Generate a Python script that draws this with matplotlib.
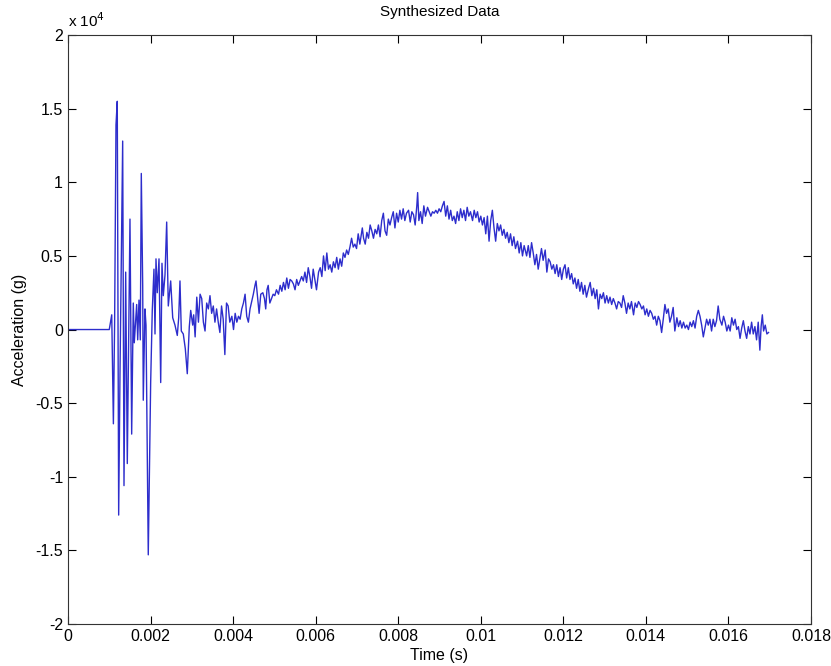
import matplotlib
matplotlib.use("Agg")
import matplotlib.pyplot as plt
from matplotlib.ticker import FuncFormatter
import numpy as np

# temps en ms, acceleration en unites de 1e4 g
t_burst = [0.00, 1.00, 1.06, 1.10, 1.13, 1.163, 1.194, 1.228, 1.26, 1.325, 1.357, 1.398,
           1.437, 1.502, 1.543, 1.582, 1.606, 1.664, 1.689, 1.720, 1.752, 1.776, 1.810,
           1.824, 1.865, 1.890, 1.945, 2.003, 2.042, 2.083, 2.108, 2.132, 2.163, 2.205,
           2.246, 2.277, 2.309, 2.350, 2.391, 2.430, 2.488, 2.537, 2.592, 2.648, 2.682,
           2.713, 2.745, 2.793, 2.842, 2.890, 2.939, 2.973, 3.021, 3.045]
a_burst = [0.00, 0.00, 0.10, -0.64, 0.05, 1.39, 1.55, -1.26, -0.30, 1.28, -1.06, 0.39,
           -0.91, 0.75, -0.71, 0.18, -0.09, 0.17, -0.07, 0.20, -0.07, 1.06, 0.30,
           -0.48, 0.14, 0.03, -1.53, -0.36, 0.13, 0.41, -0.03, 0.48, 0.25, 0.48,
           -0.36, 0.45, 0.23, 0.37, 0.73, 0.16, 0.33, 0.08, 0.03, -0.04, 0.08,
           0.33, -0.01, -0.03, -0.13, -0.30, 0.02, 0.13, 0.03, 0.10]

t_rise = [3.08, 3.12, 3.16, 3.20, 3.24, 3.28, 3.32, 3.36, 3.40, 3.44, 3.48, 3.52, 3.56,
          3.60, 3.64, 3.68, 3.72, 3.76, 3.80, 3.84, 3.88, 3.92, 3.97, 4.01, 4.05, 4.09,
          4.13, 4.17, 4.21, 4.25, 4.29, 4.33, 4.37, 4.41, 4.45, 4.49, 4.53, 4.555, 4.595,
          4.63, 4.67, 4.72, 4.76, 4.79, 4.82, 4.85, 4.89, 4.93, 4.97, 5.01, 5.05, 5.10,
          5.14, 5.18, 5.22, 5.26, 5.30, 5.34, 5.38, 5.42, 5.46, 5.50, 5.54, 5.58, 5.62,
          5.66, 5.70,
          5.74, 5.78, 5.82, 5.86, 5.90, 5.94, 5.98, 6.02, 6.07, 6.11, 6.15, 6.19, 6.23,
          6.27, 6.31, 6.35, 6.39, 6.43, 6.47, 6.51, 6.55, 6.59, 6.63, 6.67, 6.71, 6.75,
          6.79, 6.83, 6.87, 6.91, 6.95, 6.99, 7.03, 7.07, 7.13, 7.16, 7.20, 7.24, 7.28,
          7.32, 7.36, 7.40, 7.44, 7.48, 7.52, 7.56, 7.60, 7.64, 7.68, 7.72, 7.76, 7.80,
          7.84, 7.88, 7.92, 7.96, 8.00, 8.04, 8.08, 8.12, 8.16, 8.20, 8.25, 8.29, 8.33,
          8.37]
a_rise = [-0.05, 0.22, 0.05, 0.24, 0.21, 0.05, -0.01, 0.18, 0.14, 0.23, 0.11, 0.16, 0.05,
          0.14, 0.05, -0.02, 0.16, 0.07, -0.17, 0.18, 0.16, 0.05, 0.09, 0.00, 0.11, 0.05,
          0.09, 0.07, 0.14, 0.18, 0.24, 0.09, 0.05, 0.14, 0.19, 0.24, 0.30, 0.33, 0.21,
          0.11, 0.24, 0.25, 0.21, 0.14, 0.27, 0.30, 0.18, 0.21, 0.24, 0.23, 0.27, 0.24,
          0.30, 0.26, 0.32, 0.27, 0.35, 0.28, 0.34, 0.33, 0.31, 0.27, 0.34, 0.30, 0.33,
          0.36, 0.33,
          0.39, 0.32, 0.42, 0.36, 0.28, 0.41, 0.34, 0.27, 0.39, 0.42, 0.36, 0.50, 0.40,
          0.52, 0.41, 0.44, 0.39, 0.46, 0.42, 0.49, 0.41, 0.48, 0.43, 0.52, 0.49, 0.54,
          0.51, 0.56, 0.62, 0.56, 0.58, 0.55, 0.65, 0.58, 0.69, 0.62, 0.58, 0.66, 0.62,
          0.71, 0.67, 0.62, 0.68, 0.65, 0.71, 0.63, 0.74, 0.79, 0.67, 0.64, 0.75, 0.71,
          0.76, 0.80, 0.69, 0.79, 0.73, 0.81, 0.75, 0.82, 0.74, 0.79, 0.81, 0.73, 0.80,
          0.78]

t_fall = [8.41, 8.45, 8.47, 8.50, 8.54, 8.58, 8.62, 8.66, 8.71, 8.75, 8.79, 8.83, 8.87,
          8.91, 8.95, 8.99, 9.03, 9.07, 9.11, 9.15, 9.19, 9.23, 9.27, 9.31, 9.35, 9.39,
          9.43, 9.47, 9.51, 9.55, 9.59, 9.63, 9.67, 9.71, 9.75, 9.80, 9.84, 9.88, 9.92,
          9.96, 10.00, 10.04, 10.08, 10.12, 10.16, 10.20, 10.24, 10.28, 10.32, 10.36,
          10.40, 10.44, 10.48, 10.52, 10.56, 10.60, 10.64, 10.68, 10.72, 10.76, 10.80,
          10.84, 10.89, 10.93, 10.97, 11.01, 11.05,
          11.11, 11.15, 11.19, 11.23, 11.27, 11.31, 11.35, 11.39, 11.43, 11.47, 11.51,
          11.56, 11.60, 11.64, 11.68, 11.72, 11.76, 11.80, 11.84, 11.88, 11.92, 11.96,
          12.00, 12.04, 12.08, 12.12, 12.16, 12.20, 12.24, 12.28, 12.32, 12.36, 12.40,
          12.44, 12.48, 12.52, 12.56, 12.61, 12.65, 12.69, 12.73, 12.77, 12.81, 12.85,
          12.89, 12.93, 12.97, 13.01, 13.05, 13.09, 13.13, 13.17, 13.21, 13.25, 13.29,
          13.33, 13.37, 13.41, 13.45, 13.49, 13.53, 13.57, 13.61, 13.65, 13.70, 13.74,
          13.78, 13.82]
a_fall = [0.71, 0.84, 0.93, 0.74, 0.80, 0.72, 0.84, 0.77, 0.83, 0.80, 0.77, 0.80, 0.79,
          0.81, 0.79, 0.82, 0.80, 0.84, 0.87, 0.77, 0.84, 0.75, 0.81, 0.74, 0.77, 0.72,
          0.80, 0.74, 0.82, 0.76, 0.81, 0.74, 0.83, 0.77, 0.80, 0.74, 0.81, 0.76, 0.80,
          0.73, 0.77, 0.71, 0.76, 0.65, 0.77, 0.60, 0.74, 0.81, 0.69, 0.60,
          0.72, 0.67, 0.71, 0.64, 0.68, 0.62, 0.66, 0.59, 0.65, 0.57, 0.63,
          0.55, 0.60, 0.52, 0.59, 0.50, 0.57,
          0.50, 0.57, 0.49, 0.59, 0.52, 0.44, 0.51, 0.41, 0.48, 0.55, 0.47,
          0.54, 0.39, 0.48, 0.46, 0.41, 0.44, 0.38, 0.44, 0.36, 0.42, 0.34,
          0.41, 0.44, 0.35, 0.42, 0.34, 0.38, 0.31, 0.35, 0.28, 0.34, 0.26,
          0.32, 0.24, 0.30, 0.22, 0.28, 0.32, 0.23, 0.28, 0.21, 0.27, 0.14,
          0.24, 0.21, 0.25, 0.18, 0.23, 0.18, 0.22, 0.17, 0.21, 0.18, 0.14,
          0.19, 0.18, 0.15, 0.23, 0.18, 0.11, 0.18, 0.14, 0.19, 0.10, 0.18,
          0.15, 0.19]

t_tail = [13.86, 13.90, 13.94, 13.98, 14.02, 14.06, 14.10, 14.14, 14.18, 14.22, 14.26,
          14.30, 14.34, 14.38, 14.42, 14.46, 14.50, 14.54, 14.58, 14.62, 14.66, 14.70,
          14.75, 14.79, 14.83, 14.87, 14.91, 14.95, 14.99, 15.03, 15.07, 15.11, 15.15,
          15.19, 15.23, 15.27, 15.31, 15.35, 15.39, 15.43, 15.47, 15.51, 15.55, 15.59,
          15.63, 15.67, 15.71, 15.75, 15.79, 15.84, 15.88, 15.92, 15.96, 16.00, 16.04,
          16.08, 16.12, 16.16, 16.20, 16.24, 16.28, 16.32, 16.36, 16.40, 16.44, 16.48,
          16.52, 16.56, 16.60, 16.64, 16.68, 16.72, 16.76, 16.79, 16.82, 16.85, 16.89,
          16.93, 16.97]
a_tail = [0.17, 0.14, 0.16, 0.10, 0.14, 0.09, 0.13, 0.11, 0.07, 0.09, 0.03,
          0.09, 0.06, -0.02, 0.07, 0.17, 0.11, 0.14, 0.05, 0.09, 0.15, -0.01,
          0.08, 0.02, 0.06, 0.01, 0.05, 0.01, 0.03, 0.00, 0.05, 0.02, 0.06,
          0.01, 0.09, 0.13, 0.09, 0.03, -0.05, 0.01, 0.07, 0.03, 0.07, -0.01,
          0.07, 0.02, 0.06, 0.16, 0.07, 0.03, 0.09, 0.05, -0.01, 0.03, -0.01,
          0.08, 0.03, 0.07, 0.00, 0.02, -0.06, 0.01, 0.06, -0.01, -0.06, 0.02,
          -0.03, 0.05, -0.03, 0.02, -0.07, 0.05, -0.14, 0.02, 0.10, -0.01, 0.03,
          -0.03, -0.02]

temps = np.array(t_burst + t_rise + t_fall + t_tail) * 1e-3
acceleration = np.array(a_burst + a_rise + a_fall + a_tail) * 1e4

plt.rcParams['font.family'] = ['Liberation Sans', 'DejaVu Sans']

fig = plt.figure(figsize=(8.31, 6.66), dpi=100)
ax = fig.add_axes([0.0818, 0.063, 0.8942, 0.8844])
ax.plot(temps, acceleration, color='#2d2dcc', linewidth=1.0)

ax.set_xlim(0, 0.018)
ax.set_ylim(-2e4, 2e4)
ax.set_xticks(np.arange(0, 0.0181, 0.002))
ax.set_yticks(np.arange(-2e4, 2.01e4, 0.5e4))
ax.xaxis.set_major_formatter(FuncFormatter(lambda v, p: "%g" % round(v, 4)))
ax.yaxis.set_major_formatter(FuncFormatter(lambda v, p: "%g" % (v / 1e4)))
ax.tick_params(direction='in', top=True, right=True, length=6, labelsize=11.5, width=0.8)
for s in ax.spines.values():
    s.set_linewidth(0.8)
    s.set_color('#333333')

ax.text(0.0, 1.008, r"x 10$^4$", transform=ax.transAxes, fontsize=11, ha='left', va='bottom')
ax.set_title("Synthesized Data", fontsize=11, pad=14)
ax.set_xlabel("Time (s)", fontsize=11.5, labelpad=3)
ax.set_ylabel("Acceleration (g)", fontsize=11.5, labelpad=6)

fig.savefig("out.png", dpi=100)
